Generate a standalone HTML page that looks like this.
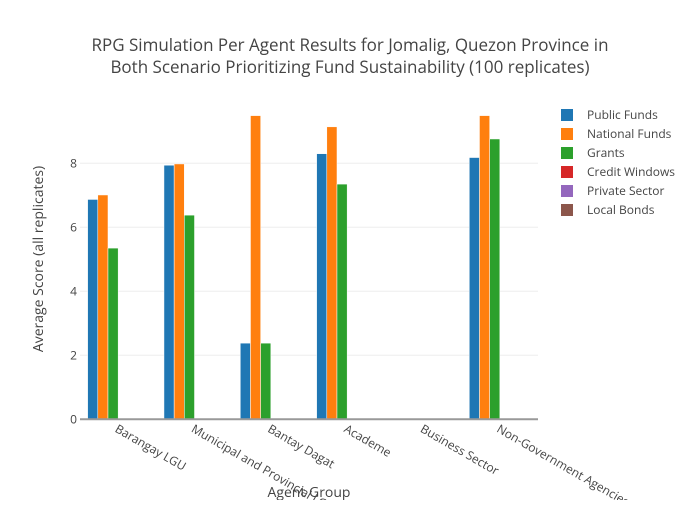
<!DOCTYPE html>
<html><head><meta charset="utf-8"><style>
body{margin:0;background:#fff;font-family:"Liberation Sans",sans-serif;}
svg text{font-family:"Open Sans","Liberation Sans",sans-serif;fill:#444;}
</style></head><body>
<svg id="c" width="700" height="500" xmlns="http://www.w3.org/2000/svg">
<rect width="700" height="500" fill="#fff"/>
<text x="350" y="51" text-anchor="middle" font-size="17">RPG Simulation Per Agent Results for Jomalig, Quezon Province in</text>
<text x="350" y="73" text-anchor="middle" font-size="17">Both Scenario Prioritizing Fund Sustainability (100 replicates)</text>
<g id="grid"></g><g id="bars"></g><g id="axes"></g><g id="legend"></g>
<text x="309" y="497" text-anchor="middle" font-size="14">Agent Group</text>
<text transform="translate(43,259) rotate(-90)" text-anchor="middle" font-size="14">Average Score (all replicates)</text>
</svg>
<script>
const categories=["Barangay LGU","Municipal and Provincial LGU","Bantay Dagat","Academe","Business Sector","Non-Government Agencies"];
const seriesNames=["Public Funds","National Funds","Grants","Credit Windows","Private Sector","Local Bonds"];
const publicFunds=[6.87,7.94,2.38,8.3,0,8.18];
const nationalFunds=[7.01,7.98,9.49,9.14,0,9.49];
const grants=[5.35,6.38,2.38,7.35,0,8.76];
const creditWindows=[0,0,0,0,0,0];
const privateSector=[0,0,0,0,0,0];
const localBonds=[0,0,0,0,0,0];
const yTicks=[0,2,4,6,8];
const colors=["#1f77b4","#ff7f0e","#2ca02c","#d62728","#9467bd","#8c564b"];
const series=[publicFunds,nationalFunds,grants,creditWindows,privateSector,localBonds];
const NS="http://www.w3.org/2000/svg";
const X0=80,X1=538,Y0=419.3,PPU=32;
const y=v=>Y0-v*PPU;
const band=(X1-X0)/categories.length;
const groupW=band*0.8, barW=groupW/series.length;
function mk(t,a,p){const e=document.createElementNS(NS,t);for(const k in a)e.setAttribute(k,a[k]);p.appendChild(e);return e;}
const grid=document.getElementById('grid'),bars=document.getElementById('bars'),axes=document.getElementById('axes'),legend=document.getElementById('legend');
yTicks.forEach(t=>{
 if(t>0){const l=mk('line',{x1:X0,x2:X1,y1:y(t),y2:y(t),stroke:'#eee','stroke-width':1},grid);
 
 }
 const tx=mk('text',{x:X0-3,y:y(t)+4,'text-anchor':'end','font-size':12},axes);tx.textContent=t;
 
 
});
series.forEach((s,si)=>{s.forEach((v,ci)=>{
 if(v<=0)return;
 const x=X0+band*ci+band*0.1+barW*si;
 const r=mk('rect',{x:x,y:y(v),width:barW,height:v*PPU,fill:colors[si],stroke:'#fff','stroke-width':0.5},bars);
 
 
});});
const ax=mk('line',{x1:X0,x2:X1,y1:Y0,y2:Y0,stroke:'#999','stroke-width':2},axes);


categories.forEach((c,ci)=>{
 const cx=X0+band*ci+band/2;
 const t=mk('text',{x:0,y:0,'font-size':12,transform:`translate(${cx-4},${Y0+12}) rotate(30)`},axes);t.textContent=c;
 
 
});
seriesNames.forEach((n,i)=>{
 const yy=115+i*19;
 const r=mk('rect',{x:561,y:yy-6,width:12,height:12,fill:colors[i]},legend);
 
 
 const t=mk('text',{x:587,y:yy+4,'font-size':12},legend);t.textContent=n;
 
 
});
</script>
</body></html>
